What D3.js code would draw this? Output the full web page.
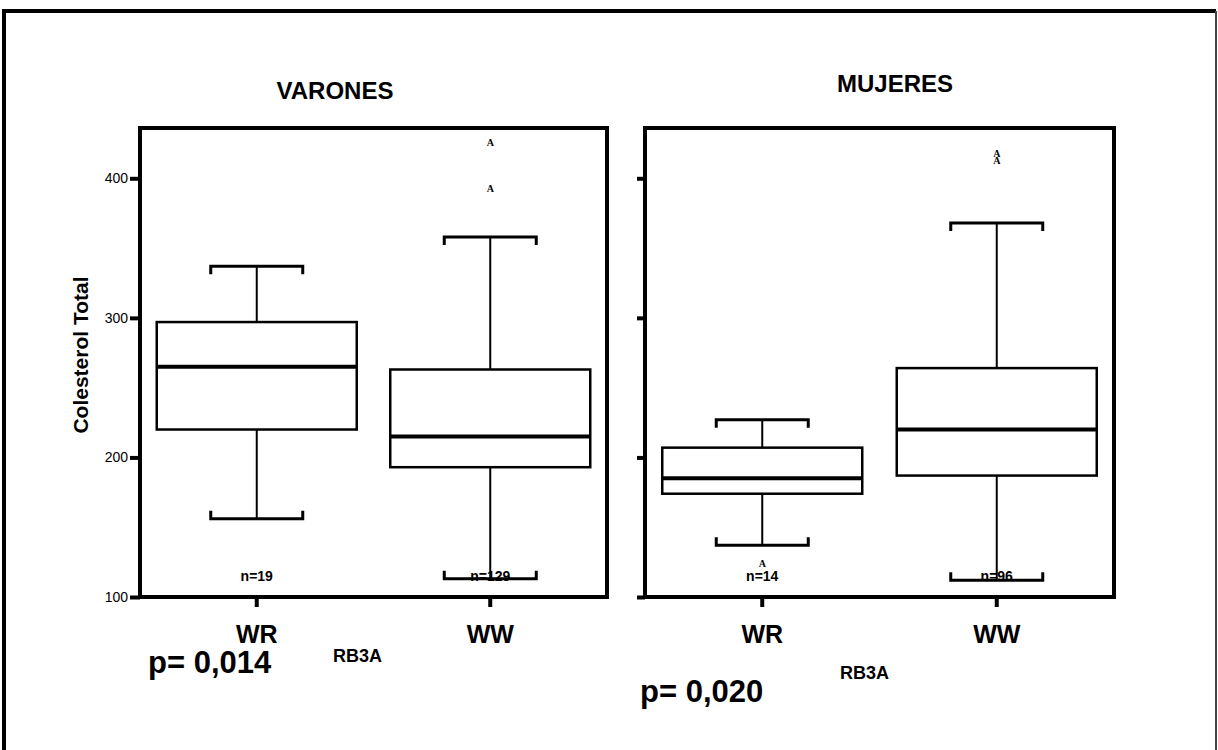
<!DOCTYPE html>
<html>
<head>
	<meta charset="utf-8">
	<title>Colesterol total por RB3A</title>
	<style>
		body {
			margin: 0;
			background: #fff;
			font-family: "Liberation Sans", Arial, Helvetica, sans-serif;
		}
		svg text {
			fill: #000;
		}
		.frame {
			fill: none;
			stroke: #000;
			stroke-width: 4;
		}
		.box {
			fill: #fff;
			stroke: #000;
			stroke-width: 2.5;
		}
		.median {
			stroke: #000;
			stroke-width: 4;
		}
		.whisker {
			stroke: #000;
			stroke-width: 2;
		}
		.cap {
			fill: none;
			stroke: #000;
			stroke-width: 3;
		}
	</style>
</head>
<body>
	<div id="drawing"></div>

	<script src="https://cdnjs.cloudflare.com/ajax/libs/d3/7.8.5/d3.min.js"></script>
	<script>
	// Data
	var panels       = ["VARONES", "MUJERES"]
	var groups       = ["WR", "WW"]
	var nLabels      = [["n=19", "n=129"], ["n=14", "n=96"]]
	var lowWhisker   = [[156, 113], [137, 112]]
	var q1           = [[220, 193], [174, 187]]
	var median       = [[265, 215], [185, 220]]
	var q3           = [[297, 263], [207, 264]]
	var highWhisker  = [[337, 358], [227, 368]]
	var outliers     = [[[], [393, 426]], [[124], [413, 418]]]
	var pValues      = ["p= 0,014", "p= 0,020"]
	var factorName   = "RB3A"
	var yTicks       = [100, 200, 300, 400]
	var yTitle       = "Colesterol Total"

	// Settings
	var width       = 1218,
		height      = 750,
		plotTop     = 128,
		plotBottom  = 597,
		panelX      = [[140, 607], [645, 1114]],
		boxWidth    = 200,
		capWidth    = 92,
		capSerif    = 8

	var svg = d3.select("#drawing").append("svg")
		.attr("width", width)
		.attr("height", height)

	// Outer page frame
	svg.append("path")
		.attr("d", "M4,750 V11 H1216")
		.attr("fill", "none").attr("stroke", "#000").attr("stroke-width", 4)
	svg.append("line")
		.attr("x1", 1216).attr("x2", 1216).attr("y1", 11).attr("y2", 750)
		.attr("stroke", "#444").attr("stroke-width", 2)

	var y = d3.scaleLinear()
		.domain([100, 100 + (plotBottom - plotTop) / 1.3957])
		.range([plotBottom, plotTop])

	// Text positions (page pixels)
	var titleX = [335, 895],
		titleY = [99, 92],
		pX     = [148, 640],
		pY     = [673, 702],
		rbX    = [333, 840],
		rbY    = [662, 679]

	panels.forEach(function(name, p){
		var x = d3.scalePoint()
			.domain(groups)
			.range(panelX[p])
			.padding(0.5)

		var g = svg.append("g").attr("class", "panel")

		// Y axis ticks (labels only on the first panel)
		var axis = d3.axisLeft(y).tickValues(yTicks).tickSize(p === 0 ? 10 : 8)
			.tickFormat(p === 0 ? d3.format("d") : "")
		var ga = g.append("g")
			.attr("transform", "translate(" + panelX[p][0] + ",0)")
			.call(axis)
		ga.select(".domain").remove()
		ga.selectAll(".tick line").attr("stroke", "#000").attr("stroke-width", 4)
		ga.selectAll(".tick text")
			.attr("x", -12)
			.attr("fill", "#000")
			.style("font-size", "14px")
			.style("font-family", "\"Liberation Sans\", Arial, sans-serif")

		// X ticks below the frame
		g.selectAll(".xtick").data(groups).enter().append("line")
			.attr("class", "xtick")
			.attr("x1", function(d){ return x(d) }).attr("x2", function(d){ return x(d) })
			.attr("y1", plotBottom).attr("y2", plotBottom + 10)
			.attr("stroke", "#000").attr("stroke-width", 4)

		g.selectAll(".xlabel").data(groups).enter().append("text")
			.attr("class", "xlabel")
			.attr("x", function(d){ return x(d) })
			.attr("y", plotBottom + 46)
			.attr("text-anchor", "middle")
			.style("font-size", "25px").style("font-weight", "bold")
			.text(function(d){ return d })

		// Boxes
		groups.forEach(function(grp, i){
			var cx = x(grp)

			// Whiskers
			g.append("line").attr("class", "whisker")
				.attr("x1", cx).attr("x2", cx)
				.attr("y1", y(q3[p][i])).attr("y2", y(highWhisker[p][i]))
			g.append("line").attr("class", "whisker")
				.attr("x1", cx).attr("x2", cx)
				.attr("y1", y(q1[p][i])).attr("y2", y(lowWhisker[p][i]))

			// Caps, with small serifs pointing at the box
			var yh = y(highWhisker[p][i]), yl = y(lowWhisker[p][i])
			g.append("path").attr("class", "cap")
				.attr("d", "M" + (cx - capWidth/2) + "," + (yh + capSerif) +
					"V" + yh + "H" + (cx + capWidth/2) + "V" + (yh + capSerif))
			g.append("path").attr("class", "cap")
				.attr("d", "M" + (cx - capWidth/2) + "," + (yl - capSerif) +
					"V" + yl + "H" + (cx + capWidth/2) + "V" + (yl - capSerif))

			// Box
			g.append("rect").attr("class", "box")
				.attr("x", cx - boxWidth/2)
				.attr("y", y(q3[p][i]))
				.attr("width", boxWidth)
				.attr("height", y(q1[p][i]) - y(q3[p][i]))
			g.append("line").attr("class", "median")
				.attr("x1", cx - boxWidth/2).attr("x2", cx + boxWidth/2)
				.attr("y1", y(median[p][i])).attr("y2", y(median[p][i]))

			// Outliers drawn as little "A" glyphs
			g.selectAll(null).data(outliers[p][i]).enter().append("text")
				.attr("x", cx)
				.attr("y", function(d){ return y(d) })
				.attr("dy", "0.35em")
				.attr("text-anchor", "middle")
				.style("font-family", "\"Liberation Serif\", \"Times New Roman\", serif")
				.style("font-size", "10px").style("font-weight", "bold")
				.text("A")

			// n label
			g.append("text")
				.attr("x", cx)
				.attr("y", 581)
				.attr("text-anchor", "middle")
				.style("font-size", "14px").style("font-weight", "bold")
				.text(nLabels[p][i])
		})

		// Plot frame
		g.append("rect").attr("class", "frame")
			.attr("x", panelX[p][0]).attr("y", plotTop)
			.attr("width", panelX[p][1] - panelX[p][0])
			.attr("height", plotBottom - plotTop)

		// Panel title
		g.append("text")
			.attr("x", titleX[p]).attr("y", titleY[p])
			.attr("text-anchor", "middle")
			.style("font-size", "24px").style("font-weight", "bold")
			.text(name)

		// p-value and factor name
		g.append("text")
			.attr("x", pX[p]).attr("y", pY[p])
			.style("font-size", "31px").style("font-weight", "bold")
			.text(pValues[p])
		g.append("text")
			.attr("x", rbX[p]).attr("y", rbY[p])
			.style("font-size", "18px").style("font-weight", "bold")
			.text(factorName)
	})

	// Y axis title
	svg.append("text")
		.attr("transform", "translate(88,355) rotate(-90)")
		.attr("text-anchor", "middle")
		.style("font-size", "21px").style("font-weight", "bold")
		.text(yTitle)
	</script>
</body>
</html>
